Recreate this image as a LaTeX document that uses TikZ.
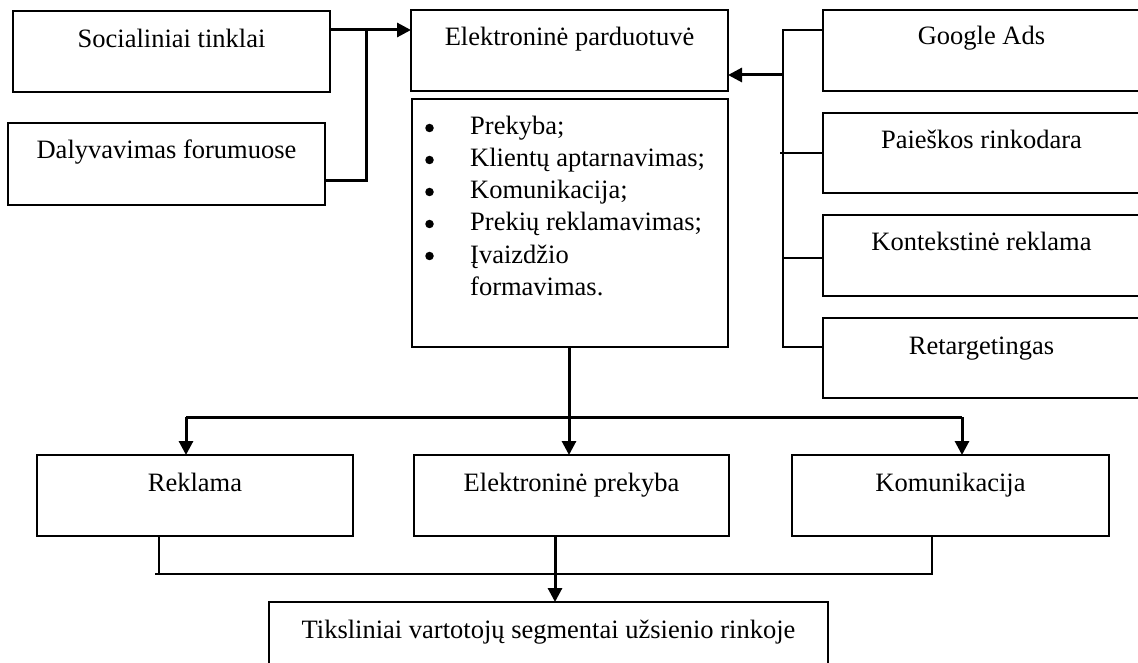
\documentclass[tikz,border=0pt]{standalone}
\usepackage{fontspec}
\setmainfont{Liberation Serif}
\usetikzlibrary{arrows.meta}
\begin{document}
\begin{tikzpicture}[x=1pt,y=-1pt,
  box/.style={draw, line width=1.8pt, anchor=north west, inner sep=0pt, outer sep=0pt,
              minimum width=317pt, minimum height=81pt},
  lbl/.style={anchor=base, inner sep=0pt, font=\fontsize{26.5}{32}\selectfont},
  dot/.style={circle, fill, inner sep=0pt, minimum size=8.5pt},
  thinline/.style={line width=1.8pt},
  thickline/.style={line width=3pt},
  arr/.style={line width=3pt, -{Triangle[length=14pt,width=14pt]}}]
\useasboundingbox (0,0) rectangle (1138,663);
\clip (0,0) rectangle (1138,663);
\fill[white] (0,0) rectangle (1138,663);

% left column: sources
\node[box] (soc) at (13,11) {};
\node[lbl] (socT) at ([yshift=-37pt]soc.north) {Socialiniai tinklai};
\node[box, minimum height=82pt] (df) at (8,123) {};
\node[lbl] (dfT) at ([yshift=-36pt]df.north) {Dalyvavimas forumuose};

% central shop and its functions
\node[box] (ep) at (411,10) {};
\node[lbl] (epT) at ([yshift=-36pt]ep.north) {Elektroninė parduotuvė};
\node[box, minimum width=316pt, minimum height=248pt] (lst) at (412,99) {};
\foreach \i/\t in {1/Prekyba;, 2/Klientų aptarnavimas;, 3/Komunikacija;,
                   4/Prekių reklamavimas;, 5/Įvaizdžio} {
  \node[dot] (b\i) at (429.5,{128+32*(\i-1)}) {};
  \node[lbl, anchor=base west] (t\i) at (470,{135+32*(\i-1)}) {\t};
}
\node[lbl, anchor=base west] (t6) at (470,295) {formavimas.};

% right column: paid channels
\node[box] (ga) at (823,10) {};
\node[lbl] (gaT) at ([yshift=-35pt]ga.north) {Google Ads};
\node[box, minimum height=80pt] (pk) at (823,113) {};
\node[lbl] (pkT) at ([yshift=-36pt]pk.north) {Paieškos rinkodara};
\node[box] (kr) at (823,215) {};
\node[lbl] (krT) at ([yshift=-36pt]kr.north) {Kontekstinė reklama};
\node[box, minimum height=80pt] (rt) at (823,318) {};
\node[lbl] (rtT) at ([yshift=-36pt]rt.north) {Retargetingas};

% middle row
\node[box, minimum width=316pt] (rek) at (37,455) {};
\node[lbl] (rekT) at ([yshift=-36pt]rek.north) {Reklama};
\node[box, minimum width=315pt] (epk) at (414,455) {};
\node[lbl] (epkT) at ([yshift=-36pt]epk.north) {Elektroninė prekyba};
\node[box] (kom) at (792,455) {};
\node[lbl] (komT) at ([yshift=-36pt]kom.north) {Komunikacija};

% target
\node[box, minimum width=559pt] (tgt) at (269,602) {};
\node[lbl] (tgtT) at ([yshift=-36pt]tgt.north) {Tiksliniai vartotojų segmentai užsienio rinkoje};

% connectors on the left
\coordinate (lj) at (366,30);
\draw[arr] ([yshift=-19pt]soc.north east) -- (lj -| ep.west);
\draw[thickline] ([yshift=-58pt]df.north east) -| (lj);

% connectors on the right
\coordinate (rtop) at (783,30);
\coordinate (rbot) at (783,347);
\coordinate (rmid) at (783,75);
\draw[thinline] ([yshift=-20pt]ga.north west) -- (rtop) -- (rbot) -- ([yshift=-29pt]rt.north west);
\draw[thinline] (pk.west) -- ([xshift=-3pt]pk.west -| rtop);
\draw[thinline] ([yshift=-2.5pt]kr.west) -- ([yshift=-2.5pt]kr.west -| rtop);
\draw[arr] (rmid) -- (rmid -| ep.east);

% distribution to the middle row
\coordinate (bl) at (186,417);
\coordinate (bm) at (569,417);
\coordinate (br) at (962,417);
\draw[thickline] (bm |- lst.south) -- (bm);
\draw[thickline] (bl) -- (br);
\draw[arr] (bl) -- (bl |- rek.north);
\draw[arr] (bm) -- (bm |- epk.north);
\draw[arr] (br) -- (br |- kom.north);

% collection towards the target
\coordinate (dl) at (159,574);
\coordinate (dm) at (555,574);
\coordinate (dr) at (932,574);
\draw[thinline] (dl |- rek.south) -- (dl) -- ([xshift=-4pt]dl);
\draw[thinline] (dl) -- (dr) -- (dr |- kom.south);
\draw[arr] (dm |- epk.south) -- (dm |- tgt.north);
\end{tikzpicture}
\end{document}
